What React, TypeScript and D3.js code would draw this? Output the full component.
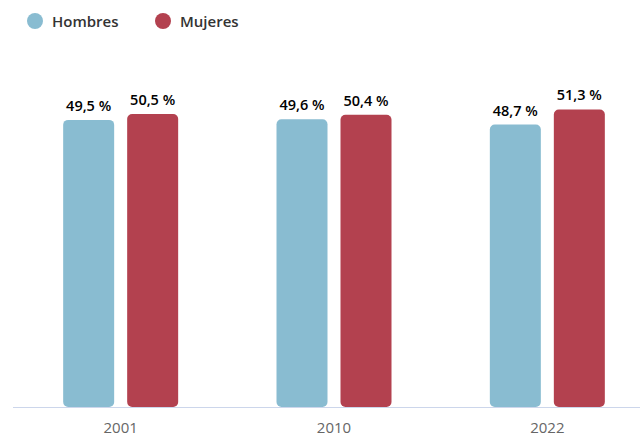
import * as d3 from 'd3';
import React from 'react';

const years = ['2001', '2010', '2022'];
const hombres = [49.5, 49.6, 48.7];
const mujeres = [50.5, 50.4, 51.3];
const seriesNames = ['Hombres', 'Mujeres'];
const colors = ['#89bcd1', '#b3414f'];

const W = 640;
const H = 436;
const baseY = 407;

export default function App() {
  const x = d3.scaleBand<string>().domain(years).range([14, 654]);
  const y = d3.scaleLinear().domain([0, 60]).range([baseY, baseY - 348]);
  const inner = d3.scaleBand<number>().domain([0, 1]).range([0, 115]).paddingInner(13 / 64);
  const values = [hombres, mujeres];
  const bw = inner.bandwidth();

  return (
    <svg width={W} height={H} style={{ position: 'absolute', left: 0, top: 0, fontFamily: 'Open Sans, sans-serif' }}>
      <rect width={W} height={H} fill="#fff" />
      {/* legend */}
      {seriesNames.map((n, i) => (
        <g key={n} transform={`translate(${35 + i * 128},21)`}>
          <circle r={8} fill={colors[i]} />
          <text x={17} y={6} fontSize={15} fontWeight={600} fill="#333">{n}</text>
        </g>
      ))}
      {years.map((yr, gi) => {
        const cx = x(yr)! + x.bandwidth() / 2;
        const start = cx - 57.5;
        return (
          <g key={yr}>
            {values.map((vals, si) => {
              const v = vals[gi];
              const bx = start + inner(si)!;
              const top = y(v);
              return (
                <g key={si}>
                  <rect x={bx} y={top} width={bw} height={baseY - top} rx={5} fill={colors[si]} />
                  <text x={bx + bw / 2} y={top - 9} textAnchor="middle" fontSize={14.5} fontWeight={600} fill="#000">
                    {d3.format('.1f')(v).replace('.', ',')} %
                  </text>
                </g>
              );
            })}
            <text x={cx} y={433} textAnchor="middle" fontSize={15} fill="#666">{yr}</text>
          </g>
        );
      })}
      <line x1={13} x2={W} y1={baseY + 0.5} y2={baseY + 0.5} stroke="#ccd6eb" />
    </svg>
  );
}
